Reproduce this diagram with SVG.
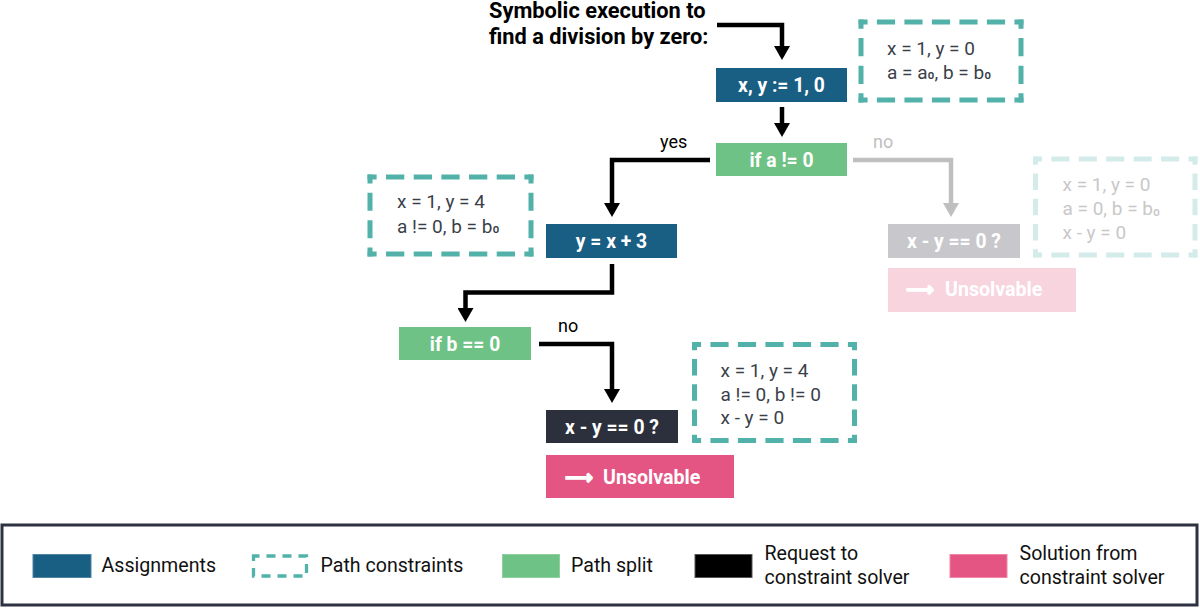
<svg xmlns="http://www.w3.org/2000/svg" width="1200" height="610" viewBox="0 0 1200 610">
<style>
text { font-family: Roboto, "Liberation Sans", sans-serif; }
.title { font-size: 21.8px; font-weight: bold; fill: #000; }
.lbl { font-size: 19.3px; font-weight: bold; fill: #fff; text-anchor: middle; }
.sol { font-size: 19.6px; font-weight: bold; fill: #fff; }
.arrowglyph { font-family: "DejaVu Sans", sans-serif; font-weight: bold; stroke: #fff; stroke-width: 1.4; }
.ctext { font-size: 19px; fill: #3b3f4a; }
.ctext.light { fill: #c8c8c8; }
.edge { font-size: 18px; fill: #000; }
.edge.light { fill: #c0c0c0; }
.legtext { font-size: 19.6px; fill: #111; }
.assign { fill: #195e83; }
.split { fill: #6fc285; }
.request { fill: #2c303d; }
.requestLight { fill: #c8c8cc; }
.solution { fill: #e45584; }
.solutionLight { fill: #f8d4df; }
.dash { fill: none; stroke: #52b1a9; stroke-width: 5; stroke-dasharray: 0.66 0.34; stroke-dashoffset: 0.33; }
.dash.light { stroke: #d3ecea; }
.conn { fill: none; stroke: #000; stroke-width: 4.5; }
.conn.light { stroke: #bfbfbf; }
</style>
<defs>
<marker id="ah" viewBox="0 -8 14 16" refX="0" refY="0" markerWidth="14" markerHeight="16" markerUnits="userSpaceOnUse" orient="auto">
<path d="M0,-8 L14,0 L0,8 Z" fill="#000"/>
</marker>
<marker id="ahl" viewBox="0 -8 14 16" refX="0" refY="0" markerWidth="14" markerHeight="16" markerUnits="userSpaceOnUse" orient="auto">
<path d="M0,-8 L14,0 L0,8 Z" fill="#bfbfbf"/>
</marker>
</defs>
<rect width="1200" height="610" fill="#fff"/>

<g id="title">
<text class="title" x="489" y="18">Symbolic execution to</text>
<text class="title" x="489" y="43.5">find a division by zero:</text>
</g>

<g id="connectors">
<path class="conn" d="M717,25 H782 V46" marker-end="url(#ah)"/>
<path class="conn" d="M782,107 V123" marker-end="url(#ah)"/>
<path class="conn" d="M710,160 H612 V203" marker-end="url(#ah)"/>
<path class="conn light" d="M853,160 H951 V203" marker-end="url(#ahl)"/>
<path class="conn" d="M612,264 V292.5 H465.5 V308" marker-end="url(#ah)"/>
<path class="conn" d="M539,344 H612 V389" marker-end="url(#ah)"/>
<text class="edge" x="660" y="148">yes</text>
<text class="edge light" x="873" y="148">no</text>
<text class="edge" x="558" y="332">no</text>
</g>

<g id="assign1">
<rect class="assign" x="716" y="68" width="131" height="34"/>
<text class="lbl" x="781.5" y="91.5">x, y := 1, 0</text>
</g>

<g id="constraints1">
<path class="dash" pathLength="6" d="M858.5,22 H1023.5"/>
<path class="dash" pathLength="6" d="M858.5,100 H1023.5"/>
<path class="dash" pathLength="3" d="M861,19.5 V102.5"/>
<path class="dash" pathLength="3" d="M1021,19.5 V102.5"/>
<text class="ctext" x="887" y="54.5">x = 1, y = 0</text>
<text class="ctext" x="887" y="78.5">a = a<tspan dy="-2.5">₀</tspan><tspan dy="2.5">, b = b</tspan><tspan dy="-2.5">₀</tspan></text>
</g>

<g id="split1">
<rect class="split" x="716" y="143" width="131" height="33"/>
<text class="lbl" x="781.5" y="166.5">if a != 0</text>
</g>

<g id="constraints2">
<path class="dash" pathLength="6" d="M367.5,177 H533.5"/>
<path class="dash" pathLength="6" d="M367.5,254 H533.5"/>
<path class="dash" pathLength="3" d="M370,174.5 V256.5"/>
<path class="dash" pathLength="3" d="M531,174.5 V256.5"/>
<text class="ctext" x="397" y="208">x = 1, y = 4</text>
<text class="ctext" x="397" y="232.5">a != 0, b = b<tspan dy="-2.5">₀</tspan></text>
</g>

<g id="assign2">
<rect class="assign" x="546" y="224" width="131" height="34"/>
<text class="lbl" x="611.5" y="247.5">y = x + 3</text>
</g>

<g id="request1">
<rect class="requestLight" x="888" y="224" width="132" height="34"/>
<text class="lbl" x="954" y="247.5">x - y == 0 ?</text>
</g>

<g id="solution1">
<rect class="solutionLight" x="888" y="268" width="188" height="44"/>
<text class="sol" x="906" y="296"><tspan class="arrowglyph">⟶ </tspan><tspan x="945">Unsolvable</tspan></text>
</g>

<g id="constraints4">
<path class="dash light" pathLength="6" d="M1033,159 H1197.5"/>
<path class="dash light" pathLength="6" d="M1033,255 H1197.5"/>
<path class="dash light" pathLength="4" d="M1035.5,156.5 V257.5"/>
<path class="dash light" pathLength="4" d="M1195,156.5 V257.5"/>
<text class="ctext light" x="1062.5" y="191">x = 1, y = 0</text>
<text class="ctext light" x="1062.5" y="215">a = 0, b = b<tspan dy="-2.5">₀</tspan></text>
<text class="ctext light" x="1062.5" y="239">x - y = 0</text>
</g>

<g id="split2">
<rect class="split" x="399" y="327" width="132" height="33"/>
<text class="lbl" x="465" y="350.5">if b == 0</text>
</g>

<g id="constraints3">
<path class="dash" pathLength="6" d="M692,344.5 H857"/>
<path class="dash" pathLength="6" d="M692,440.5 H857"/>
<path class="dash" pathLength="4" d="M694.5,342 V443"/>
<path class="dash" pathLength="4" d="M854.5,342 V443"/>
<text class="ctext" x="720.5" y="377">x = 1, y = 4</text>
<text class="ctext" x="720.5" y="400.5">a != 0, b != 0</text>
<text class="ctext" x="720.5" y="424">x - y = 0</text>
</g>

<g id="request2">
<rect class="request" x="546" y="410" width="132" height="33"/>
<text class="lbl" x="612" y="433.5">x - y == 0 ?</text>
</g>

<g id="solution2">
<rect class="solution" x="546" y="455" width="188" height="43"/>
<text class="sol" x="565" y="483.5"><tspan class="arrowglyph">⟶ </tspan><tspan x="603">Unsolvable</tspan></text>
</g>

<g id="legend">
<rect x="2" y="525" width="1195" height="80" fill="none" stroke="#2e3240" stroke-width="3"/>
<rect class="assign" x="33" y="554.5" width="58" height="23" stroke="#4f85a3" stroke-width="1"/>
<text class="legtext" x="101.5" y="572">Assignments</text>
<rect x="253.5" y="556" width="53" height="20" fill="none" stroke="#52b1a9" stroke-width="3.3" stroke-dasharray="9 7" stroke-dashoffset="3"/>
<text class="legtext" x="320.5" y="572">Path constraints</text>
<rect class="split" x="502.5" y="554.5" width="57" height="23" stroke="#8dd0a0" stroke-width="1"/>
<text class="legtext" x="571" y="572">Path split</text>
<rect x="695" y="554.5" width="57" height="23" fill="#000" stroke="#555" stroke-width="1"/>
<text class="legtext" x="764.5" y="560">Request to</text>
<text class="legtext" x="764.5" y="583.5">constraint solver</text>
<rect class="solution" x="950" y="554.5" width="57" height="23" stroke="#ee86a6" stroke-width="1"/>
<text class="legtext" x="1019.5" y="560">Solution from</text>
<text class="legtext" x="1019.5" y="583.5">constraint solver</text>
</g>
</svg>
